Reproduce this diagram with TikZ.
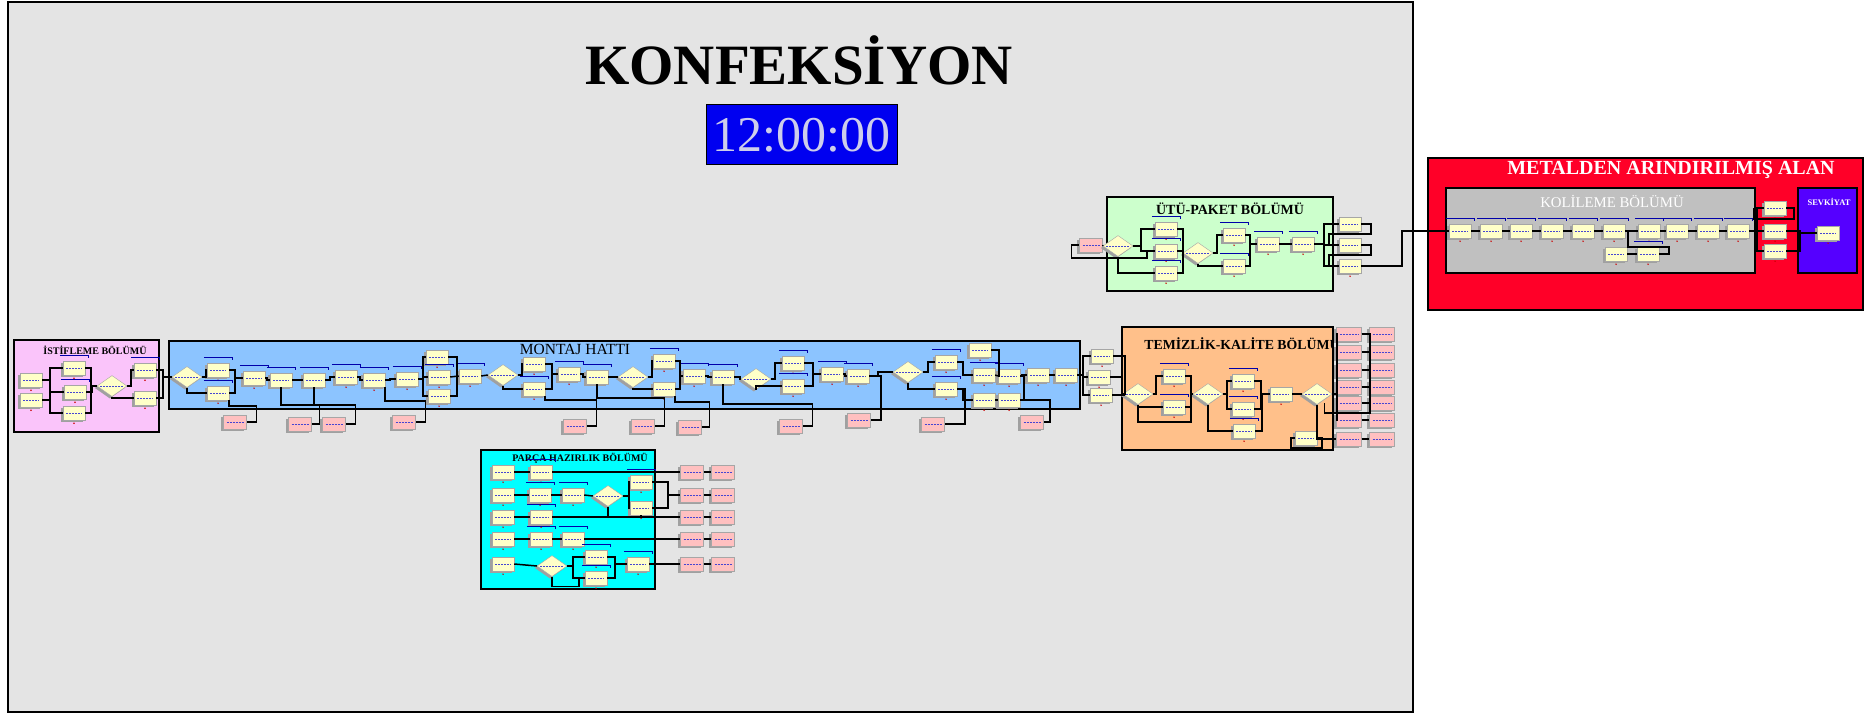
\documentclass[tikz,border=0pt]{standalone}
\usepackage{fontspec}
\setmainfont{Liberation Serif}
\usetikzlibrary{shapes.geometric,shadows}
\definecolor{bggray}{RGB}{228,228,228}
\definecolor{istpink}{RGB}{250,196,250}
\definecolor{monblue}{RGB}{140,196,255}
\definecolor{parcyan}{RGB}{0,255,255}
\definecolor{utugreen}{RGB}{204,255,204}
\definecolor{temorange}{RGB}{255,192,138}
\definecolor{metred}{RGB}{255,0,40}
\definecolor{kolgray}{RGB}{192,192,192}
\definecolor{sevblue}{RGB}{85,0,255}
\definecolor{clockblue}{RGB}{0,0,240}
\definecolor{clocktxt}{RGB}{205,205,235}
\definecolor{modyel}{RGB}{255,255,200}
\definecolor{modpink}{RGB}{255,192,192}
\definecolor{qblue}{RGB}{0,0,170}
\definecolor{labblue}{RGB}{70,70,210}
\definecolor{shad}{RGB}{160,160,160}
\tikzset{
  modbase/.style={draw=gray!70, line width=0.4pt, inner sep=0pt,
    drop shadow={shadow xshift=-2.2pt, shadow yshift=-2pt, fill=shad, opacity=1},
    path picture={\draw[labblue, dash pattern=on 2pt off 1pt, line width=0.7pt]
      ([xshift=3pt]path picture bounding box.west) -- ([xshift=-3pt]path picture bounding box.east);}},
  reddot/.style={circle, fill=red!80!black, inner sep=0pt, minimum size=1.6pt},
  mod/.style={modbase, rectangle, fill=modyel, minimum width=22pt, minimum height=14pt,
    label={[reddot, yshift=-2pt]below:{}}},
  pmod/.style={modbase, rectangle, fill=modpink, minimum width=23pt, minimum height=14pt},
  dec/.style={modbase, diamond, fill=modyel, minimum width=30pt, minimum height=21pt},
  con/.style={line width=1.5pt, black},
  qln/.style={line width=1.3pt, qblue},
  frame/.style={draw=black, line width=1.3pt},
  hvr/.style={to path={-- ++(#1,0) |- (\tikztotarget)}},
  hvr/.default=5,
  ttl/.style={inner sep=0pt, font=\bfseries},
}
\newcommand\qq[1]{\draw[qln] ([shift={(-3pt,5pt)}]#1.north west) -- ([shift={(3pt,5pt)}]#1.north east) -- ++(0pt,-2.5pt);}
\begin{document}
\begin{tikzpicture}[x=1pt,y=-1pt]
\useasboundingbox (0,0) rectangle (1870,714);
\fill[white] (0,0) rectangle (1870,714);
% ---------- areas ----------
\draw[frame, fill=bggray] (8,2) rectangle (1413,712);
\draw[frame, fill=istpink] (14,340) rectangle (159,432);
\draw[frame, fill=monblue] (169,341) rectangle (1080,409);
\draw[frame, fill=parcyan] (481,450) rectangle (655,589);
\draw[frame, fill=utugreen] (1107,197) rectangle (1333,291);
\draw[frame, fill=temorange] (1122,327) rectangle (1333,450);
\draw[frame, fill=metred] (1428,158) rectangle (1863,310);
\draw[frame, fill=kolgray] (1446,188) rectangle (1755,273);
\draw[frame, fill=sevblue] (1798,188) rectangle (1857,273);
% ---------- titles ----------
\node[ttl, font=\fontsize{57}{60}\selectfont\bfseries] (title) at (799,60) {KONFEKSİYON};
\node[draw=black, line width=1pt, fill=clockblue, minimum width=191pt, minimum height=60pt, inner sep=0pt,
  text=clocktxt, font=\fontsize{50}{50}\selectfont] (clock) at (801.5,135) {12:00:00};
\node[ttl, font=\fontsize{10}{10}\selectfont\bfseries] (tIst) at (95,350) {İSTİFLEME BÖLÜMÜ};
\node[inner sep=0pt, font=\fontsize{15.5}{16}\selectfont] (tMon) at (575,349) {MONTAJ HATTI};
\node[ttl, font=\fontsize{10}{10}\selectfont\bfseries] (tPar) at (580,458) {PARÇA HAZIRLIK BÖLÜMÜ};
\node[ttl, font=\fontsize{14}{14}\selectfont\bfseries] (tUtu) at (1230,209) {ÜTÜ-PAKET BÖLÜMÜ};
\node[ttl, font=\fontsize{13.8}{14}\selectfont\bfseries] (tTem) at (1242,344) {TEMİZLİK-KALİTE BÖLÜMÜ};
\node[ttl, text=white, font=\fontsize{20}{20}\selectfont\bfseries] (tMet) at (1671,170) {METALDEN ARINDIRILMIŞ ALAN};
\node[inner sep=0pt, text=white, font=\fontsize{14.8}{15}\selectfont] (tKol) at (1612,201) {KOLİLEME BÖLÜMÜ};
\node[ttl, text=white, font=\fontsize{8.5}{9}\selectfont\bfseries] (tSev) at (1829,202) {SEVKİYAT};
% ---------- istifleme ----------
\node[mod] (iC1) at (31,380) {};
\node[mod] (iC2) at (31,400) {};
\node[mod] (iM1) at (74,368) {};
\node[mod] (iM2) at (75,392) {};
\node[mod] (iM3) at (74,413) {};
\node[dec] (iD) at (112,386) {};
\node[mod] (iR1) at (145,370) {};
\node[mod] (iR2) at (145,398) {};
\qq{iM1}\qq{iM2}\qq{iR1}
% ---------- montaj ----------
\node[dec] (mD0) at (187,377) {};
\node[mod] (mA1) at (218,370) {};
\node[mod] (mA2) at (218,393) {};
\node[mod] (mB) at (254,378) {};
\node[mod] (mC) at (281,380) {};
\node[mod] (mD) at (314,380) {};
\node[mod] (mE) at (346,377) {};
\node[mod] (mF) at (374,380) {};
\node[mod] (mG) at (407,379) {};
\node[mod] (mH1) at (437,357) {};
\node[mod] (mH2) at (439,377) {};
\node[mod] (mH3) at (439,396) {};
\node[mod] (mI) at (470,376) {};
\node[dec] (mD1) at (503,375) {};
\node[mod] (mJ1) at (534,364) {};
\node[mod] (mJ2) at (534,389) {};
\node[mod] (mK) at (569,374) {};
\node[mod] (mL) at (597,377) {};
\node[dec] (mD2) at (633,377) {};
\node[mod] (mM1) at (664,361) {};
\node[mod] (mM2) at (664,389) {};
\node[mod] (mN) at (694,376) {};
\node[mod] (mO) at (723,377) {};
\node[dec] (mD3) at (756,379) {};
\node[mod] (mP1) at (793,363) {};
\node[mod] (mP2) at (793,386) {};
\node[mod] (mQ) at (832,374) {};
\node[mod] (mR) at (858,376) {};
\node[dec] (mD4) at (908,372) {};
\node[mod] (mS1) at (946,362) {};
\node[mod] (mS2) at (946,389) {};
\node[mod] (mT) at (980,350) {};
\node[mod] (mU1) at (984,375) {};
\node[mod] (mU2) at (984,400) {};
\node[mod] (mV1) at (1009,376) {};
\node[mod] (mV2) at (1009,400) {};
\node[mod] (mW) at (1038,375) {};
\node[mod] (mX) at (1066,375) {};
\node[mod] (yA) at (1102,356) {};
\node[mod] (yB) at (1099,377) {};
\node[mod] (yC) at (1101,395) {};
\foreach \n in {mA1,mA2,mB,mC,mD,mE,mF,mG,mH2,mI,mJ2,mK,mL,mM1,mN,mO,mP1,mP2,mQ,mR,mS1,mS2,mU1,mV1}{\qq{\n}}
% pinks below montaj
\node[pmod] (pk1) at (235,422) {};
\node[pmod] (pk2) at (300,424) {};
\node[pmod] (pk3) at (334,424) {};
\node[pmod] (pk4) at (404,422) {};
\node[pmod] (pk5) at (575,426) {};
\node[pmod] (pk6) at (643,426) {};
\node[pmod] (pk7) at (690,427) {};
\node[pmod] (pk8) at (791,426) {};
\node[pmod] (pk9) at (859,420) {};
\node[pmod] (pk10) at (933,424) {};
\node[pmod] (pk11) at (1032,422) {};
% ---------- parca hazirlik ----------
\node[mod] (p1a) at (503,472) {};
\node[mod] (p1b) at (541,472) {};
\node[mod] (p2a) at (503,495) {};
\node[mod] (p2b) at (540,495) {};
\node[mod] (p2c) at (573,495) {};
\node[dec] (p2d) at (608,496) {};
\node[mod] (p2e1) at (641,482) {};
\node[mod] (p2e2) at (641,508) {};
\node[mod] (p3a) at (503,517) {};
\node[mod] (p3b) at (541,517) {};
\node[mod] (p4a) at (503,539) {};
\node[mod] (p4b) at (541,539) {};
\node[mod] (p4c) at (573,539) {};
\node[mod] (p5a) at (503,564) {};
\node[dec] (p5d) at (552,566) {};
\node[mod] (p5e1) at (596,557) {};
\node[mod] (p5e2) at (596,578) {};
\node[mod] (p5f) at (638,564) {};
\foreach \n in {p1b,p2b,p2c,p2e1,p3b,p4b,p4c,p5e1,p5e2,p5f}{\qq{\n}}
\foreach \r/\y in {1/472,2/495,3/517,4/539,5/564}{
  \node[pmod] (ppa\r) at (692,\y) {};
  \node[pmod] (ppb\r) at (723,\y) {};
  \draw[con] (ppa\r.east) -- (ppb\r.west);
}
% ---------- utu-paket ----------
\node[pmod] (uPk) at (1091,245) {};
\node[dec] (uD1) at (1118,246) {};
\node[mod] (uM1) at (1166,229) {};
\node[mod] (uM2) at (1166,251) {};
\node[mod] (uM3) at (1166,273) {};
\node[dec] (uD2) at (1198,253) {};
\node[mod] (uN1) at (1234,235) {};
\node[mod] (uN2) at (1234,266) {};
\node[mod] (uO) at (1268,244) {};
\node[mod] (uP) at (1303,244) {};
\node[mod] (uR1) at (1350,224) {};
\node[mod] (uR2) at (1350,245) {};
\node[mod] (uR3) at (1350,266) {};
\foreach \n in {uM1,uM2,uM3,uN1,uN2,uO,uP}{\qq{\n}}
% ---------- temizlik-kalite ----------
\node[dec] (tD1) at (1138,394) {};
\node[mod] (tM1) at (1174,376) {};
\node[mod] (tM2) at (1174,407) {};
\node[dec] (tD2) at (1208,394) {};
\node[mod] (tN1) at (1243,381) {};
\node[mod] (tN2) at (1243,409) {};
\node[mod] (tN3) at (1244,431) {};
\node[mod] (tO) at (1281,394) {};
\node[dec] (tD3) at (1317,394) {};
\node[mod] (tP) at (1306,438) {};
\foreach \n in {tM1,tM2,tN1,tN2,tN3}{\qq{\n}}
\foreach \r/\y in {1/334,2/352,3/370,4/387,5/403,6/420,7/439}{
  \node[pmod, minimum width=25pt] (tka\r) at (1349,\y) {};
  \node[pmod, minimum width=25pt] (tkb\r) at (1382,\y) {};
  \draw[con] (tka\r.east) -- (tkb\r.west);
}
% ---------- kolileme / sevkiyat ----------
\foreach \n/\x in {1/1460,2/1491,3/1521,4/1552,5/1583,6/1614,7/1649,8/1677,9/1708,10/1738}{
  \node[mod] (kA\n) at (\x,231) {};
  \qq{kA\n}
}
\node[mod] (kB1) at (1616,254) {};
\node[mod] (kB2) at (1648,254) {};
\qq{kB2}
\node[mod] (kR1) at (1775,208) {};
\node[mod] (kR2) at (1775,231) {};
\node[mod] (kR3) at (1775,251) {};
\node[mod] (sv) at (1828,233) {};
% ================= connectors =================
% istifleme
\draw[con] (iC1.east) to[hvr=8] (iM1.west);
\draw[con] (iC1.east) to[hvr=8] (iM2.west);
\draw[con] (iC2.east) to[hvr=8] (iM3.west);
\draw[con] (iC2.east) to[hvr=8] (iM2.west);
\draw[con] (iM1.east) to[hvr=6] (iD.west);
\draw[con] (iM2.east) to[hvr=6] (iD.west);
\draw[con] (iM3.east) to[hvr=6] (iD.west);
\draw[con] (iD.east) to[hvr=4] (iR1.west);
\draw[con] (iD.south) |- (iR2.west);
\draw[con] (iR1.east) to[hvr=7] (mD0.west);
\draw[con] (iR2.east) to[hvr=7] (mD0.west);
% montaj main flow
\draw[con] (mD0.east) to[hvr=4] (mA1.west);
\draw[con] (mD0.south) |- (mA2.west);
\draw[con] (mA1.east) to[hvr=6] (mB.west);
\draw[con] (mA2.east) to[hvr=6] (mB.west);
\draw[con] (mB.east) to[hvr=2] (mC.west);
\draw[con] (mC.east) to[hvr=5] (mD.west);
\draw[con] (mD.east) to[hvr=5] (mE.west);
\draw[con] (mE.east) to[hvr=3] (mF.west);
\draw[con] (mF.east) to[hvr=5] (mG.west);
\draw[con] (mG.east) to[hvr=5] (mH1.west);
\draw[con] (mG.east) to[hvr=5] (mH2.west);
\draw[con] (mG.east) to[hvr=5] (mH3.west);
\draw[con] (mH1.east) -- ++(9,0) |- (mH3.east);
\draw[con] (mH2.east) -- (mI.west);
\draw[con] (mI.east) -- (mD1.west);
\draw[con] (mD1.east) to[hvr=4] (mJ1.west);
\draw[con] (mD1.south) |- (mJ2.west);
\draw[con] (mJ1.east) to[hvr=7] (mK.west);
\draw[con] (mJ2.east) to[hvr=7] (mK.west);
\draw[con] (mK.east) to[hvr=3] (mL.west);
\draw[con] (mL.east) -- (mD2.west);
\draw[con] (mD2.east) to[hvr=4] (mM1.west);
\draw[con] (mD2.south) |- (mM2.west);
\draw[con] (mM1.east) to[hvr=5] (mN.west);
\draw[con] (mM2.east) to[hvr=5] (mN.west);
\draw[con] (mN.east) to[hvr=3] (mO.west);
\draw[con] (mO.east) to[hvr=6] (mD3.west);
\draw[con] (mD3.east) to[hvr=4] (mP1.west);
\draw[con] (mD3.south) |- (mP2.west);
\draw[con] (mP1.east) to[hvr=9] (mQ.west);
\draw[con] (mP2.east) to[hvr=9] (mQ.west);
\draw[con] (mQ.east) to[hvr=2] (mR.west);
\draw[con] (mR.east) to[hvr=9] (mD4.west);
\draw[con] (mD4.east) to[hvr=5] (mS1.west);
\draw[con] (mD4.south) |- (mS2.west);
\draw[con] (mS1.east) to[hvr=6] (mU1.west);
\draw[con] (mS2.east) to[hvr=6] (mU2.west);
\draw[con] (mT.east) to[hvr=8] (mV1.west);
\draw[con] (mU1.east) -- (mV1.west);
\draw[con] (mU2.east) -- (mV2.west);
\draw[con] (mV1.east) to[hvr=2] (mW.west);
\draw[con] (mV2.east) to[hvr=4] (mW.west);
\draw[con] (mW.east) to[hvr=3] (mX.west);
\draw[con] (mX.east) to[hvr=6] (yA.west);
\draw[con] (mX.east) to[hvr=6] (yB.west);
\draw[con] (mX.east) to[hvr=6] (yC.west);
\draw[con] (yA.east) to[hvr=12] (tD1.west);
\draw[con] (yB.east) to[hvr=12] (tD1.west);
\draw[con] (yC.east) to[hvr=12] (tD1.west);
% montaj to pinks
\draw[con] (mA2.south east) -- ++(0,6) -| ([xshift=10pt]pk1.east) -- (pk1.east);
\draw[con] (mC.south) -- ++(0,18) -| ([xshift=8pt]pk2.east) -- (pk2.east);
\draw[con] (mD.south) -- ++(0,18) -| ([xshift=10pt]pk3.east) -- (pk3.east);
\draw[con] (mF.south east) -- ++(0,14) -| ([xshift=10pt]pk4.east) -- (pk4.east);
\draw[con] (mJ2.south east) -- ++(0,4) -| ([xshift=10pt]pk5.east) -- (pk5.east);
\draw[con] (mL.south) -- ++(0,14) -| ([xshift=10pt]pk6.east) -- (pk6.east);
\draw[con] (mM2.south east) -- ++(0,6) -| ([xshift=8pt]pk7.east) -- (pk7.east);
\draw[con] (mO.south) -- ++(0,20) -| ([xshift=10pt]pk8.east) -- (pk8.east);
\draw[con] (mR.east) -- ++(12,0) |- (pk9.east);
\draw[con] (mS2.east) -- ++(8,0) |- (pk10.east);
\draw[con] (mV2.east) -- ++(30,0) |- (pk11.east);
% parca hazirlik
\draw[con] (p1a.east) -- (p1b.west);
\draw[con] (p1b.east) -- (ppa1.west);
\draw[con] (p2a.east) -- (p2b.west);
\draw[con] (p2b.east) -- (p2c.west);
\draw[con] (p2c.east) -- (p2d.west);
\draw[con] (p2d.east) to[hvr=6] (p2e1.west);
\draw[con] (p2d.east) to[hvr=6] (p2e2.west);
\draw[con] (p2e1.east) to[hvr=16] (ppa2.west);
\draw[con] (p2e2.east) to[hvr=16] (ppa2.west);
\draw[con] (p2e2.south) |- (ppa3.west);
\draw[con] (p2d.south) -- (p2d.south |- p3b.east);
\draw[con] (p3a.east) -- (p3b.west);
\draw[con] (p3b.east) -- (ppa3.west);
\draw[con] (p4a.east) -- (p4b.west);
\draw[con] (p4b.east) -- (p4c.west);
\draw[con] (p4c.east) -- (ppa4.west);
\draw[con] (p5a.east) -- (p5d.west);
\draw[con] (p5d.east) to[hvr=6] (p5e1.west);
\draw[con] (p5d.east) to[hvr=6] (p5e2.west);
\draw[con] (p5d.south) -- ++(0,10) -| ([xshift=-6pt]p5e2.west) -- (p5e2.west);
\draw[con] (p5e1.east) to[hvr=8] (p5f.west);
\draw[con] (p5e2.east) to[hvr=8] (p5f.west);
\draw[con] (p5f.east) -- (ppa5.west);
% utu-paket
\draw[con] (uPk.east) -- (uD1.west);
\draw[con] (uM2.west) -- ++(-8,0) |- ([yshift=-6pt]uPk.south) -| ([xshift=-8pt]uPk.west) -- (uPk.west);
\draw[con] (uD1.east) to[hvr=8] (uM1.west);
\draw[con] (uD1.east) to[hvr=8] (uM2.west);
\draw[con] (uD1.south) |- (uM3.west);
\draw[con] (uM1.east) to[hvr=6] (uD2.west);
\draw[con] (uM2.east) to[hvr=6] (uD2.west);
\draw[con] (uM3.east) to[hvr=6] (uD2.west);
\draw[con] (uD2.east) to[hvr=4] (uN1.west);
\draw[con] (uD2.south) |- (uN2.west);
\draw[con] (uN1.east) to[hvr=5] (uO.west);
\draw[con] (uN2.east) to[hvr=5] (uO.west);
\draw[con] (uO.east) -- (uP.west);
\draw[con] (uP.east) to[hvr=10] (uR1.west);
\draw[con] (uP.east) to[hvr=10] (uR2.west);
\draw[con] (uP.east) to[hvr=10] (uR3.west);
\draw[con] (uR1.east) -- ++(10,0) -- ++(0,10) -| ([xshift=-10pt]uR2.west) -- (uR2.west);
\draw[con] (uR2.east) -- ++(10,0) -- ++(0,10) -| ([xshift=-10pt]uR3.west) -- (uR3.west);
\draw[con] (uR3.east) -- ++(41,0) |- (kA1.west);
% temizlik-kalite
\draw[con] (tD1.east) to[hvr=3] (tM1.west);
\draw[con] (tD1.south) |- (tM2.west);
\draw[con] (tM2.east) -- ++(6,0) |- ([yshift=-8pt]tM2.south) -| (tD1.south);
\draw[con] (tM1.east) to[hvr=6] (tD2.west);
\draw[con] (tM2.east) to[hvr=6] (tD2.west);
\draw[con] (tD2.east) to[hvr=4] (tN1.west);
\draw[con] (tD2.east) to[hvr=4] (tN2.west);
\draw[con] (tD2.south) |- (tN3.west);
\draw[con] (tN1.east) to[hvr=7] (tO.west);
\draw[con] (tN2.east) to[hvr=7] (tO.west);
\draw[con] (tN3.east) to[hvr=7] (tO.west);
\draw[con] (tO.east) -- (tD3.west);
\foreach \r in {1,...,6}{\draw[con] (tD3.east) to[hvr=5] (tka\r.west);}
\draw[con] (tka1.east) -- ++(8.5,0) |- ([yshift=-3pt]tka5.south) -| ([xshift=-12pt]tka5.west);
\draw[con] (tD3.south) |- (tka7.west);
\draw[con] (tP.west) -- ++(-4,0) |- ([yshift=-3pt]tP.south) -| ([xshift=5pt]tP.east) -- (tP.east);
% kolileme / sevkiyat
\foreach \a/\b in {1/2,2/3,3/4,4/5,5/6,6/7,7/8,8/9,9/10}{\draw[con] (kA\a.east) -- (kA\b.west);}
\draw[con] (kB1.east) -- (kB2.west);
\draw[con] (kA6.east) -- ++(3,0) -- ++(0,16) -| ([xshift=10pt]kB2.east) -- (kB2.east);
\draw[con] (kA10.east) to[hvr=8] (kR1.west);
\draw[con] (kA10.east) to[hvr=8] (kR2.west);
\draw[con] (kA10.east) to[hvr=8] (kR3.west);
\draw[con] (kR1.east) -- ++(8,0) |- ([yshift=-4pt]kR1.south) -| ([xshift=-10pt]kR1.west);
\draw[con] (kR2.east) to[hvr=14] (sv.west);
\draw[con] (kR3.east) to[hvr=14] (sv.west);
\end{tikzpicture}
\end{document}
